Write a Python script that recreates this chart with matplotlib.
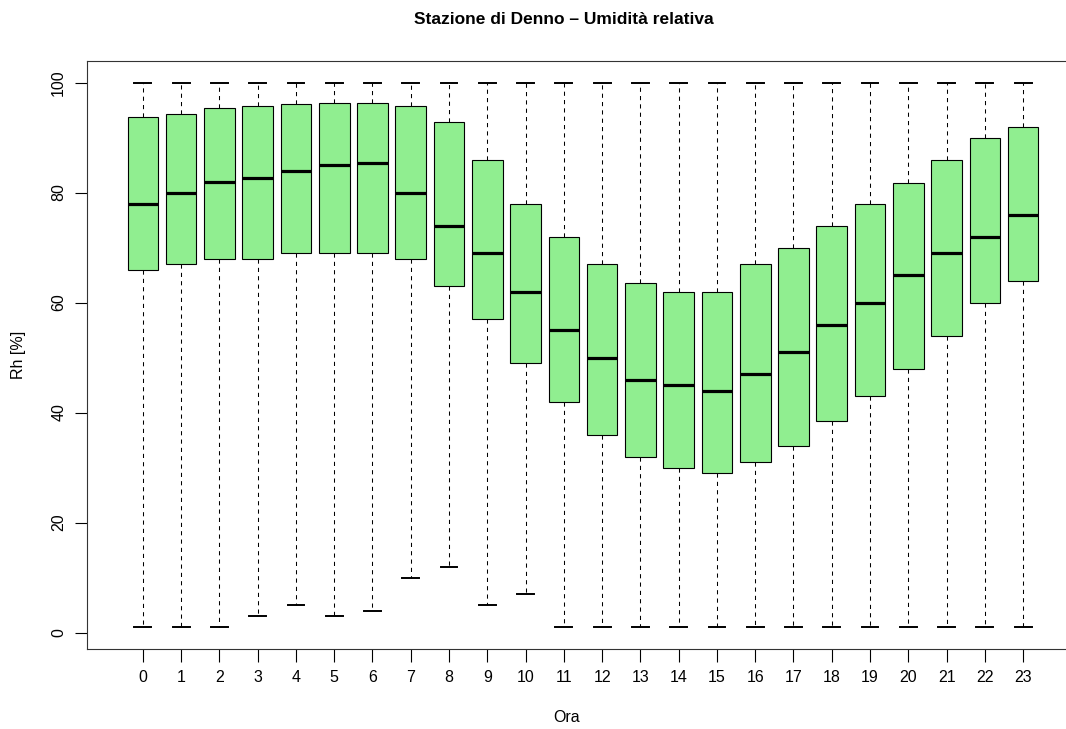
import matplotlib
matplotlib.use("Agg")
import matplotlib.pyplot as plt

plt.rcParams['font.family'] = ['Liberation Sans', 'DejaVu Sans']

# hourly relative humidity stats
hours = list(range(24))
whislo = [1, 1, 1, 3, 5, 3, 4, 10, 12, 5, 7, 1, 1, 1, 1, 1, 1, 1, 1, 1, 1, 1, 1, 1]
q1 = [66, 67, 68, 68, 69, 69, 69, 68, 63, 57, 49, 42, 36, 32, 30, 29, 31, 34, 38.5, 43, 48, 54, 60, 64]
med = [78, 80, 82, 82.7, 84, 85, 85.3, 80, 74, 69, 62, 55, 50, 46, 45, 44, 47, 51, 56, 60, 65, 69, 72, 76]
q3 = [93.8, 94.3, 95.4, 95.8, 96.1, 96.3, 96.3, 95.8, 92.9, 86, 78, 72, 67, 63.5, 62, 62, 67, 70, 74, 78, 81.7, 86, 90, 92]
whishi = [100] * 24

stats = []
for i in hours:
    stats.append(dict(whislo=whislo[i], q1=q1[i], med=med[i], q3=q3[i], whishi=whishi[i], fliers=[]))

fig = plt.figure(figsize=(10.66, 7.29), dpi=100)
# plot box runs past the right edge of the picture, as in the original
ax = fig.add_axes([0.0816, 0.110, 0.9306, 0.8067])

ax.bxp(stats, positions=hours, widths=0.8, patch_artist=True, showfliers=False,
       boxprops=dict(facecolor='#90EE90', edgecolor='black', linewidth=0.8),
       medianprops=dict(color='black', linewidth=2.3, solid_capstyle='butt'),
       whiskerprops=dict(color='black', linewidth=0.75, linestyle=(0, (4, 4))),
       capprops=dict(color='black', linewidth=1.4),
       capwidths=0.44)

ax.set_xlim(-1.46, 24.46)
ax.set_ylim(-2.96, 103.96)
ax.set_xticks(hours)
ax.set_xticklabels([str(h) for h in hours])
ax.set_yticks([0, 20, 40, 60, 80, 100])
ax.set_yticklabels(['0', '20', '40', '60', '80', '100'], rotation=90, va='center')
ax.tick_params(axis='both', labelsize=11.5, length=9, width=0.8, pad=6)
for s in ax.spines.values():
    s.set_linewidth(0.8)
    s.set_color('#333333')

ax.set_ylabel('Rh [%]', fontsize=11.5, labelpad=18)
fig.text(567 / 1066, 1 - 718 / 729, 'Ora', fontsize=11.5, ha='center', va='center')
fig.text(564 / 1066, 1 - 20 / 729, 'Stazione di Denno \u2013 Umidità relativa',
         fontsize=12.5, fontweight='bold', ha='center', va='center')

fig.savefig('out.png', dpi=100)
